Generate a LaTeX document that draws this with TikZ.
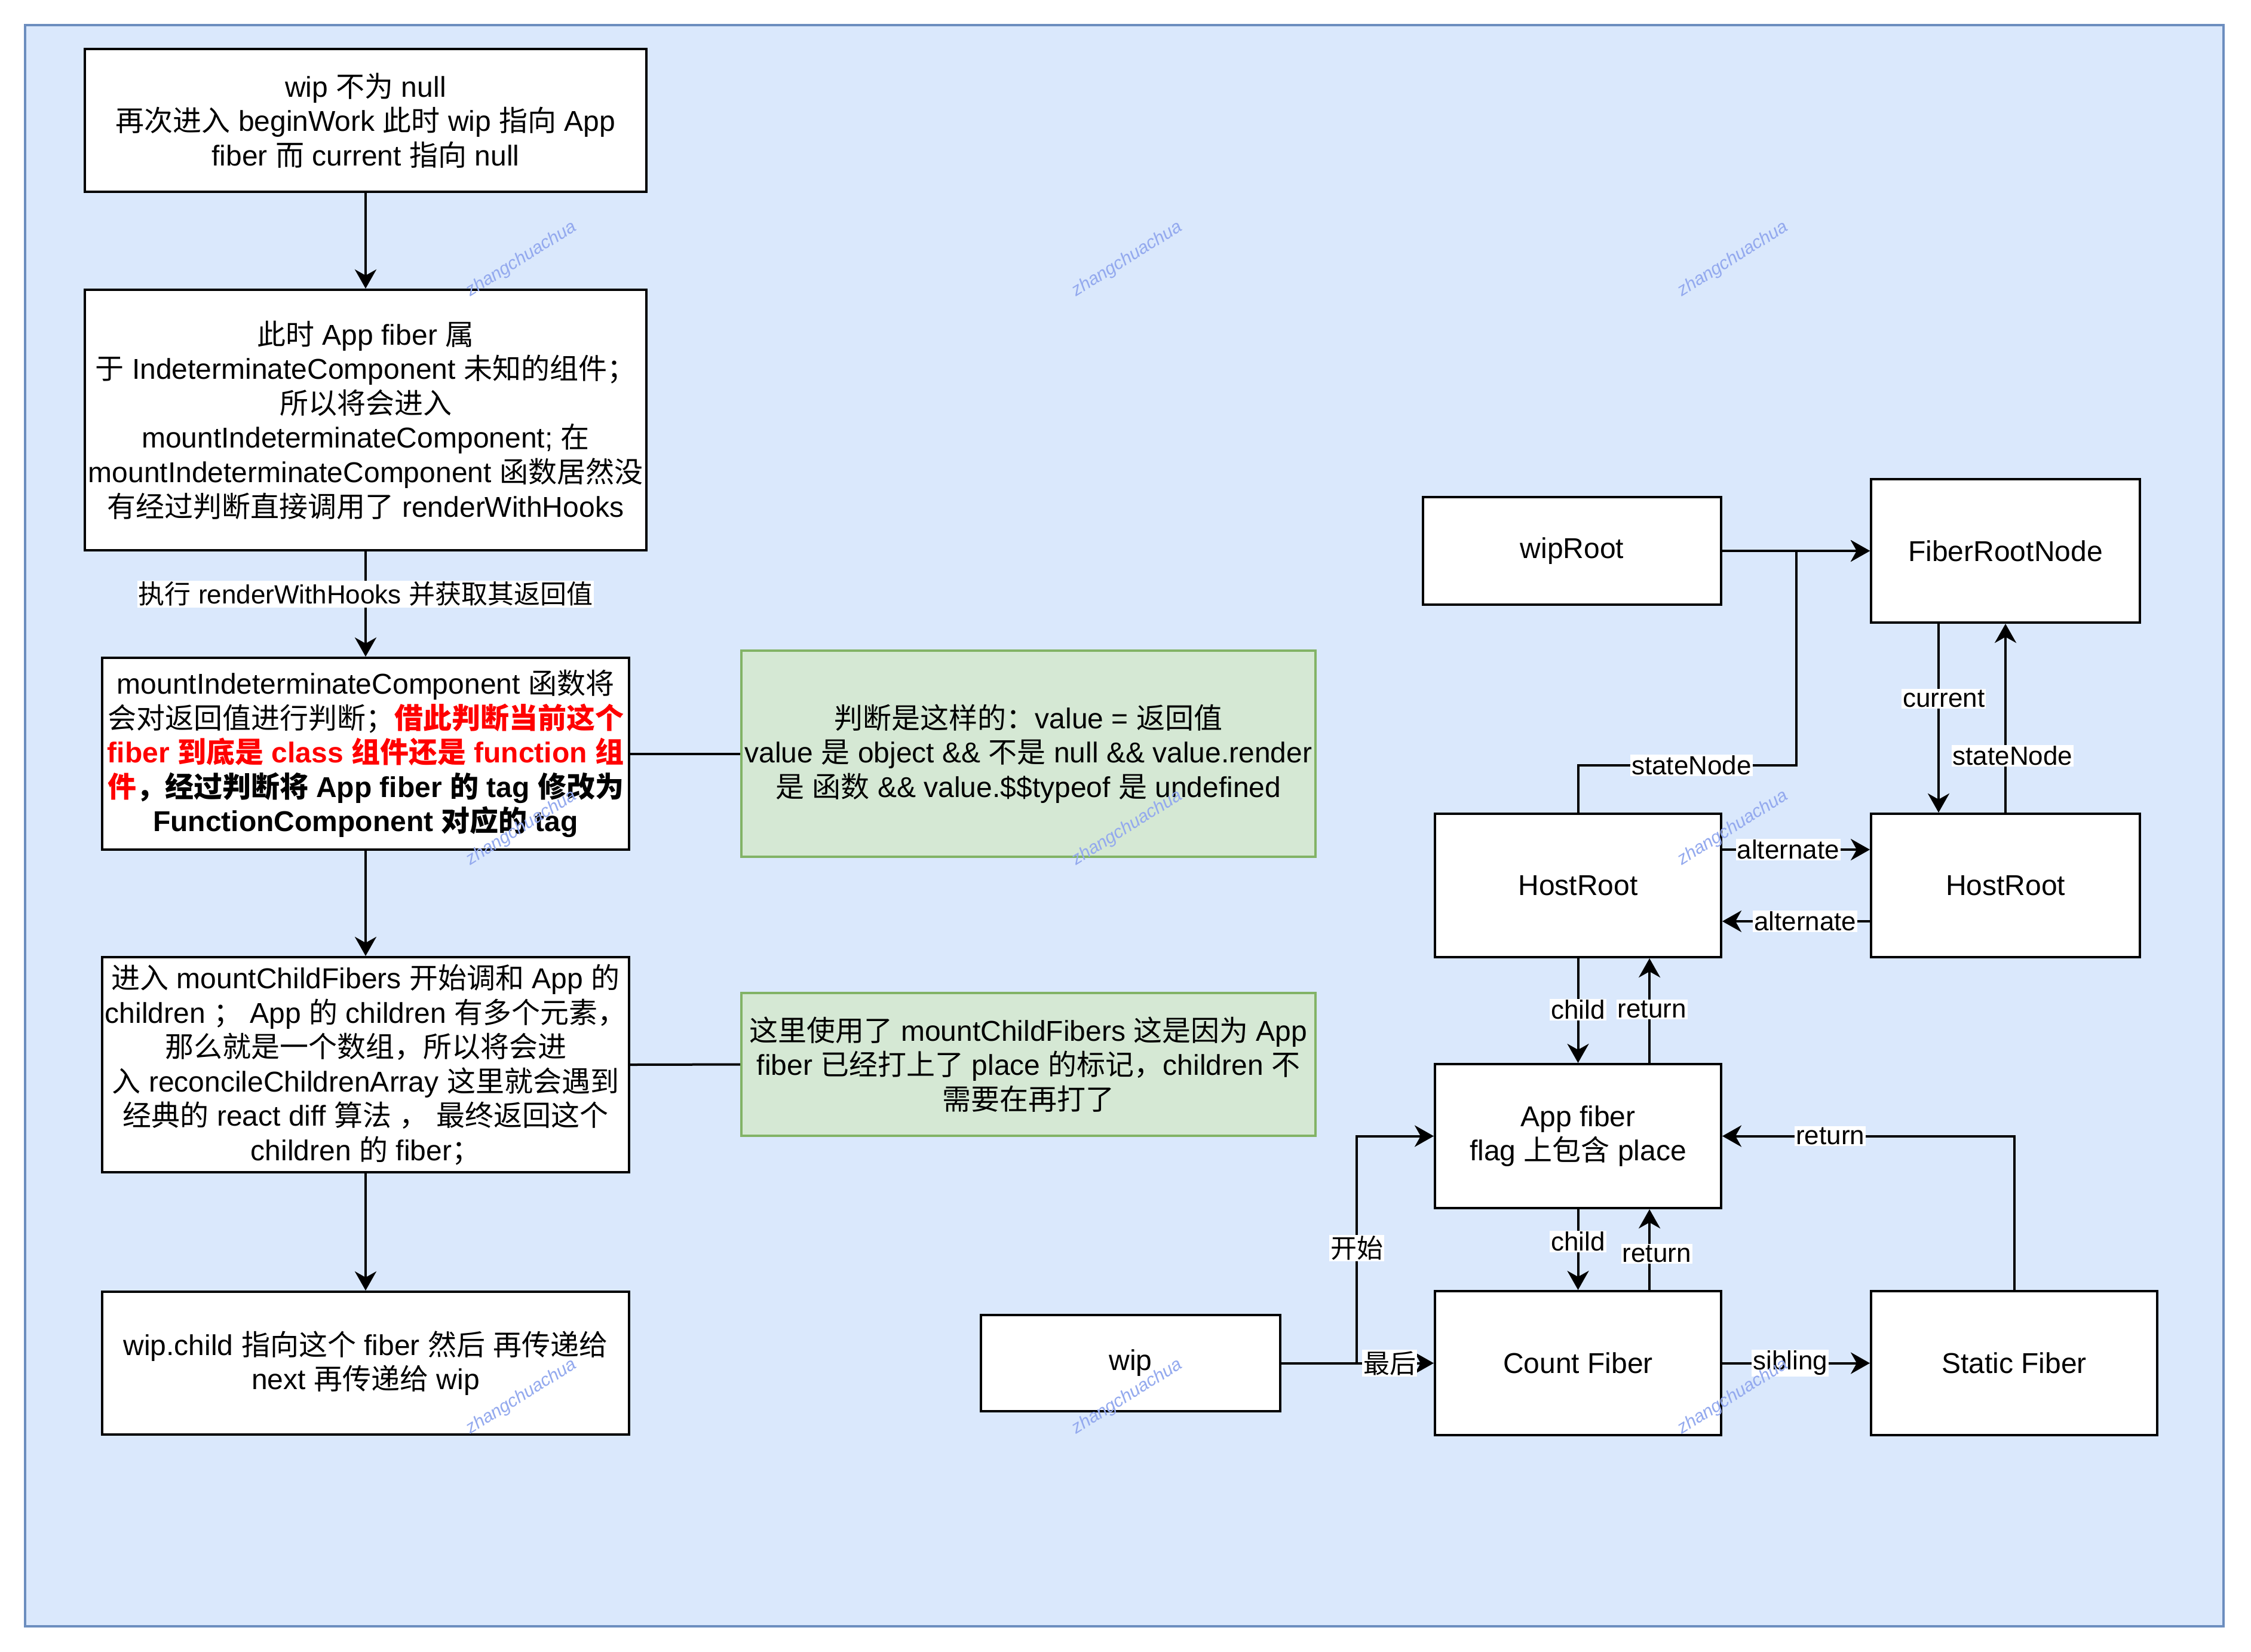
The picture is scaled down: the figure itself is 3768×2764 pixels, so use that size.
\documentclass[tikz,border=0pt]{standalone}
\usepackage{fontspec}
\setmainfont{Liberation Sans}
\newfontfamily\latfam{Liberation Sans}
\newfontfamily\cjkfam{Noto Sans CJK SC}
\usetikzlibrary{arrows.meta}

% switch fonts automatically between Latin and CJK runs
\XeTeXinterchartokenstate=1
\newXeTeXintercharclass\cjkclass
\newcount\cjkcnt
\def\setcjkrange#1#2{\cjkcnt=#1\relax
  \loop \XeTeXcharclass\cjkcnt=\cjkclass \advance\cjkcnt by 1 \ifnum\cjkcnt<#2\relax \repeat}
\setcjkrange{"3000}{"3040}
\setcjkrange{"4E00}{"A000}
\setcjkrange{"FF00}{"FFF0}
\XeTeXinterchartoks 0 \cjkclass = {\cjkfam}
\XeTeXinterchartoks 4095 \cjkclass = {\cjkfam}
\XeTeXinterchartoks \cjkclass 0 = {\latfam}
\XeTeXinterchartoks \cjkclass 4095 = {\latfam}

\definecolor{bgfill}{HTML}{DAE8FC}
\definecolor{bgline}{HTML}{6C8EBF}
\definecolor{gfill}{HTML}{D5E8D4}
\definecolor{gline}{HTML}{82B366}
\definecolor{wmcol}{HTML}{93A9EE}

\tikzset{
  box/.style={draw, fill=white, line width=1pt, align=center, inner sep=0pt,
    font=\fontsize{12pt}{14.4pt}\selectfont},
  note/.style={box, fill=gfill, draw=gline},
  conn/.style={line width=1pt, -{Stealth[length=8pt,width=9pt,inset=2.5pt]}},
  plainline/.style={line width=1pt},
  lbl/.style={fill=white, inner xsep=0.5pt, inner ysep=0.5pt,
    font=\fontsize{11pt}{13.2pt}\selectfont},
  wm/.style={text=wmcol, rotate=32, inner sep=0pt,
    font=\fontsize{7.5pt}{9pt}\selectfont\itshape}
}

\begin{document}
\begin{tikzpicture}[x=0.25pt, y=-0.25pt]
\useasboundingbox (0,0) rectangle (3768,2764);
\fill[white] (0,0) rectangle (3768,2764);
\draw[fill=bgfill, draw=bgline, line width=1pt] (42,42) rectangle (3722,2722);

% left column: the beginWork flow
\node[box, minimum width=235pt, minimum height=59.75pt] (b1) at (612,201.5)
  {wip 不为 null\\再次进入 beginWork 此时 wip 指向 App\\fiber 而 current 指向 null};
\node[box, minimum width=235pt, minimum height=109pt] (b2) at (612,703)
  {此时 App fiber 属\\于 IndeterminateComponent 未知的组件；\\所以将会进入\\mountIndeterminateComponent; 在\\mountIndeterminateComponent 函数居然没\\有经过判断直接调用了 renderWithHooks};
\node[box, minimum width=220.5pt, minimum height=80.25pt] (b3) at (612,1261.5)
  {mountIndeterminateComponent 函数将\\会对返回值进行判断；{\color{red}\bfseries 借此判断当前这个}\\{\color{red}\bfseries fiber 到底是 class 组件还是 function 组}\\{\bfseries{\color{red}件}，经过判断将 App fiber 的 tag 修改为}\\{\bfseries FunctionComponent 对应的 tag}};
\node[box, minimum width=220.5pt, minimum height=90pt] (b4) at (612,1782)
  {进入 mountChildFibers 开始调和 App 的\\children ； App 的 children 有多个元素，\\那么就是一个数组，所以将会进\\入 reconcileChildrenArray 这里就会遇到\\经典的 react diff 算法 ， 最终返回这个\\children 的 fiber；};
\node[box, minimum width=220.5pt, minimum height=59.75pt] (b5) at (612,2281.5)
  {wip.child 指向这个 fiber 然后 再传递给\\next 再传递给 wip};

% notes
\node[note, minimum width=240.25pt, minimum height=86.25pt] (g1) at (1721.5,1261.5)
  {判断是这样的：value = 返回值\\value 是 object \&\& 不是 null \&\& value.render\\是 函数 \&\& value.\$\$typeof 是 undefined};
\node[note, minimum width=240.25pt, minimum height=59.75pt] (g2) at (1721.5,1781.5)
  {这里使用了 mountChildFibers 这是因为 App\\fiber 已经打上了 place 的标记，children 不\\需要在再打了};

% right side: fiber structure
\node[box, minimum width=124.75pt, minimum height=45pt] (wiproot) at (2631.5,922) {wipRoot};
\node[box, minimum width=112.5pt, minimum height=60pt] (frn) at (3357,922) {FiberRootNode};
\node[box, minimum width=119.75pt, minimum height=60pt] (hrl) at (2641.5,1482) {HostRoot};
\node[box, minimum width=112.5pt, minimum height=60pt] (hrr) at (3357,1482) {HostRoot};
\node[box, minimum width=119.75pt, minimum height=60.25pt] (appf) at (2641.5,1901.5) {App fiber\\flag 上包含 place};
\node[box, minimum width=119.75pt, minimum height=60.25pt] (cnt) at (2641.5,2281.5) {Count Fiber};
\node[box, minimum width=119.75pt, minimum height=60.25pt] (stat) at (3371.5,2281.5) {Static Fiber};
\node[box, minimum width=125.25pt, minimum height=40.25pt] (wip) at (1892.5,2281.5) {wip};

\coordinate (snbend) at (3007,1281);
\coordinate (wipfork) at (2271,2281.5);

% left column connectors
\draw[conn] (b1) -- (b2);
\draw[conn] (b2) -- node[lbl, pos=0.405] {执行 renderWithHooks 并获取其返回值} (b3);
\draw[conn] (b3) -- (b4);
\draw[conn] (b4) -- (b5);
\draw[plainline] (b3.east) -- (g1.west);
\draw[plainline] (b4.east) -- (g2.west);

% right side connectors
\draw[conn] (wiproot.east) -- (frn.west);
\draw[conn] (hrl.north) |- node[lbl, pos=0.76] {stateNode} (snbend) |- (frn.west);
\draw[conn] ([xshift=-28pt]frn.south) -- node[lbl, pos=0.397, xshift=2.2pt] {current} ([xshift=-28pt]hrr.north);
\draw[conn] (hrr.north) -- node[lbl, pos=0.3, xshift=3pt] {stateNode} (frn.south);
\draw[conn] ([yshift=15pt]hrl.east) -- node[lbl, pos=0.446] {alternate} ([yshift=15pt]hrr.west);
\draw[conn] ([yshift=-15pt]hrr.west) -- node[lbl, pos=0.438] {alternate} ([yshift=-15pt]hrl.east);
\draw[conn] (hrl.south) -- node[lbl, pos=0.49] {child} (appf.north);
\draw[conn] ([xshift=29.9pt]appf.north) -- node[lbl, pos=0.51, xshift=1pt] {return} ([xshift=29.9pt]hrl.south);
\draw[conn] (appf.south) -- node[lbl, pos=0.40] {child} (cnt.north);
\draw[conn] ([xshift=29.9pt]cnt.north) -- node[lbl, pos=0.45, xshift=3pt] {return} ([xshift=29.9pt]appf.south);
\draw[conn] (cnt.east) -- node[lbl, pos=0.46] {sibling} (stat.west);
\draw[conn] (stat.north) |- node[lbl, pos=0.815] {return} (appf.east);
\draw[conn] (wip.east) -- (wipfork) |- node[lbl, pos=0.2535] {开始} (appf.west);
\draw[conn] (wip.east) -- node[lbl, pos=0.71] {最后} (cnt.west);

% watermark grid
\foreach \wx/\wy [count=\i] in {873/434, 1887/434, 2901/434, 873/1386, 1887/1386, 2901/1386, 873/2338, 1887/2338, 2901/2338}
  \node[wm] (wm\i) at (\wx,\wy) {zhangchuachua};
\end{tikzpicture}
\end{document}
